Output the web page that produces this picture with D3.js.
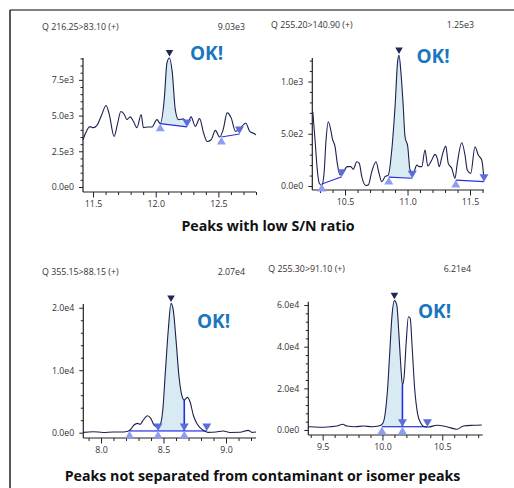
<!DOCTYPE html>
<html>
<head>
<meta charset="utf-8">
<script src="https://cdn.jsdelivr.net/npm/d3@7"></script>
<style>
  body { margin: 0; background: #fff; }
  svg text { font-family: "Open Sans", sans-serif; }
</style>
</head>
<body>
<svg id="chart" width="514" height="488"></svg>
<script>
// chromatogram traces: retention time (min) and intensity
var rtA = [11.42, 11.476, 11.502, 11.53, 11.57, 11.604, 11.63, 11.668, 11.694, 11.722, 11.75, 11.77, 11.796, 11.822, 11.85, 11.884, 11.902, 11.934, 11.97, 12.01, 12.036, 12.068, 12.09, 12.11, 12.132, 12.156, 12.182, 12.222, 12.25, 12.282, 12.316, 12.35, 12.382, 12.41, 12.442, 12.476, 12.51, 12.538, 12.57, 12.602, 12.636, 12.676, 12.718, 12.75, 12.788, 12.8];
var intA = [3310, 4225, 4155, 4295, 5070, 5704, 5070, 3540, 4366, 5281, 5070, 4718, 4908, 4598, 4155, 5070, 4155, 4204, 4204, 4718, 4436, 6127, 8711, 9030, 8028, 5422, 4718, 4767, 4366, 4908, 4246, 4788, 3782, 3190, 3310, 3965, 3500, 4013, 5190, 4838, 3894, 4133, 4485, 3894, 3732, 3662];

var rtB = [10.242, 10.26, 10.278, 10.294, 10.314, 10.332, 10.348, 10.366, 10.386, 10.398, 10.42, 10.438, 10.46, 10.486, 10.518, 10.546, 10.566, 10.594, 10.614, 10.634, 10.666, 10.686, 10.714, 10.748, 10.772, 10.794, 10.82, 10.846, 10.874, 10.9, 10.922, 10.932, 10.948, 10.966, 10.98, 11.002, 11.02, 11.046, 11.074, 11.094, 11.114, 11.14, 11.162, 11.194, 11.22, 11.238, 11.254, 11.278, 11.306, 11.326, 11.354, 11.38, 11.398, 11.434, 11.46, 11.478, 11.506, 11.54, 11.566, 11.594, 11.612];
var intB = [710, 440, 153, 26, 5, 121, 440, 615, 535, 456, 376, 217, 105, 137, 185, 185, 160, 232, 217, 89, 5, 10, 137, 232, 121, 41, 89, 105, 344, 758, 1205, 1250, 1077, 758, 471, 376, 153, 121, 200, 185, 185, 344, 191, 249, 303, 265, 185, 296, 382, 217, 169, 74, 217, 414, 296, 153, 121, 376, 296, 249, 60];

var rtC = [7.858, 7.936, 8.016, 8.096, 8.152, 8.208, 8.232, 8.264, 8.29, 8.312, 8.338, 8.37, 8.398, 8.424, 8.45, 8.472, 8.494, 8.514, 8.538, 8.56, 8.578, 8.6, 8.624, 8.646, 8.666, 8.69, 8.712, 8.738, 8.766, 8.792, 8.824, 8.858, 8.92, 8.978, 9.032, 9.112, 9.178, 9.208, 9.24];
var intC = [50, 160, 40, 120, 110, 200, 430, 1230, 1500, 1340, 2030, 2720, 2300, 1230, 960, 1230, 3630, 9500, 16430, 20700, 19630, 14830, 8960, 6030, 5230, 5660, 4960, 2830, 1500, 800, 320, 60, 110, 270, 40, 60, 380, 60, 110];

var rtD = [9.38, 9.395, 9.479, 9.563, 9.619, 9.669, 9.702, 9.772, 9.841, 9.911, 9.967, 10.003, 10.023, 10.042, 10.059, 10.079, 10.1, 10.12, 10.137, 10.154, 10.167, 10.181, 10.198, 10.217, 10.232, 10.248, 10.268, 10.293, 10.321, 10.349, 10.385, 10.455, 10.538, 10.622, 10.677, 10.761, 10.831];
var intD = [1500, 1580, 1300, 1580, 1920, 2740, 1920, 1580, 1920, 1580, 1920, 3220, 8020, 19200, 35180, 54380, 62100, 60000, 46400, 30400, 21600, 25600, 41600, 54400, 53600, 40000, 20800, 8020, 3220, 1580, 1440, 2260, 1580, 340, 1920, 2260, 2400];

// integration baselines: [start rt, start intensity, end rt, end intensity]
var segsA = [[12.036, 4436, 12.25, 4204], [12.524, 3500, 12.668, 3711]];
var segsB = [[10.314, 19, 10.474, 89], [10.85, 85, 11.038, 74], [11.386, 57, 11.612, 41]];
var segsC = [[8.228, 280, 8.456, 280], [8.456, 280, 8.666, 280], [8.666, 280, 8.846, 280]];
var segsD = [[9.995, 1580, 10.167, 1580], [10.167, 1580, 10.376, 1580]];
var filledSeg = [0, 1, 1, 0];       // which baseline segment is the integrated peak
var dropLines = [[], [], [8.666], [10.167]];

var transitions = ["Q 216.25>83.10 (+)", "Q 255.20>140.90 (+)", "Q 355.15>88.15 (+)", "Q 255.30>91.10 (+)"];
var maxLabels = ["9.03e3", "1.25e3", "2.07e4", "6.21e4"];
var yMaxes = [9030, 1225, 20600, 61600];
var yMajorSteps = [2500, 500, 10000, 20000];
var yMinorSteps = [500, 100, 2000, 4000];
var verdict = "OK!";
var sectionTitles = ["Peaks with low S/N ratio", "Peaks not separated from contaminant or isomer peaks"];

var traceCol = "#1d2050", fillCol = "#d8eaf2", baseCol = "#2430e0",
    upCol = "#8d9ef0", downCol = "#5b6cdc", apexCol = "#1c2857", okCol = "#1b76c0";
var smallFont = 8.8;

var svg = d3.select("#chart");

// frame
svg.append("line").attr("x1", 10).attr("x2", 514).attr("y1", 10).attr("y2", 10)
   .attr("stroke", "#808080").attr("stroke-width", 2);
svg.append("line").attr("x1", 10).attr("x2", 10).attr("y1", 10).attr("y2", 488)
   .attr("stroke", "#222").attr("stroke-width", 1.5);

var sci = function(v){ return d3.format(".1e")(v).replace("e+", "e"); };

var panels = [
  {rt: rtA, val: intA, segs: segsA, x0: 83, x1: 256, xDom: [11.42, 12.8], yZero: 187, yTop: 58, axisY: 192,
   headX: 42, headY: 29.5, maxR: 245, okX: 190, okY: 60},
  {rt: rtB, val: intB, segs: segsB, x0: 312.3, x1: 484, xDom: [10.238, 11.612], yZero: 186, yTop: 58, axisY: 190,
   headX: 271, headY: 28, maxR: 474, okX: 416.5, okY: 63},
  {rt: rtC, val: intC, segs: segsC, x0: 83.3, x1: 256, xDom: [7.858, 9.24], yZero: 432.7, yTop: 304, axisY: 438,
   headX: 42, headY: 275, maxR: 245, okX: 197, okY: 328},
  {rt: rtD, val: intD, segs: segsD, x0: 308.3, x1: 482.7, xDom: [9.38, 10.838], yZero: 430, yTop: 301.7, axisY: 435,
   headX: 268.3, headY: 271.5, maxR: 471, okX: 418, okY: 318}
];

function triUp(w, h){ return "M0,0L" + w + "," + h + "L" + (-w) + "," + h + "Z"; }
function triDown(w, h){ return "M0,0L" + w + "," + (-h) + "L" + (-w) + "," + (-h) + "Z"; }

panels.forEach(function(p, i){
  var g = svg.append("g").attr("class", "panel-" + i);
  var x = d3.scaleLinear().domain(p.xDom).range([p.x0, p.x1]);
  var y = d3.scaleLinear().domain([0, yMaxes[i]]).range([p.yZero, p.yTop]);
  var pts = p.rt.map(function(t, k){ return {t: t, v: p.val[k]}; });
  var interp = function(t){
    for (var k = 1; k < pts.length; k++) {
      if (pts[k].t >= t) {
        var a = pts[k-1], b = pts[k];
        return a.v + (b.v - a.v) * (t - a.t) / (b.t - a.t);
      }
    }
    return pts[pts.length-1].v;
  };

  // header
  g.append("text").attr("x", p.headX).attr("y", p.headY).attr("font-size", smallFont).attr("fill", "#333")
   .text(transitions[i]);
  g.append("text").attr("x", p.maxR).attr("y", p.headY).attr("font-size", smallFont).attr("fill", "#333")
   .attr("text-anchor", "end").text(maxLabels[i]);

  // y axis
  var yMaj = d3.range(0, yMaxes[i] + 1, yMajorSteps[i]);
  var yMin = d3.range(0, yMaxes[i] + 1, yMinorSteps[i]).filter(function(v){ return yMaj.indexOf(v) < 0; });
  var ya = g.append("g").attr("transform", "translate(" + p.x0 + ",0)");
  ya.call(d3.axisLeft(y).tickValues(yMin).tickSize(2.5).tickFormat(""));
  ya.select(".domain").remove();
  var yb = g.append("g").attr("transform", "translate(" + p.x0 + ",0)");
  yb.call(d3.axisLeft(y).tickValues(yMaj).tickSize(4).tickPadding(5).tickFormat(sci));
  yb.select(".domain").remove();
  yb.selectAll("text").attr("font-size", smallFont).attr("fill", "#333").attr("font-family", "Open Sans, sans-serif");
  g.append("line").attr("x1", p.x0).attr("x2", p.x0).attr("y1", p.yTop).attr("y2", p.axisY)
   .attr("stroke", "#222").attr("stroke-width", 1.2);

  // x axis
  var xa = d3.range(Math.ceil(p.xDom[0] * 10), Math.floor(p.xDom[1] * 10) + 1).map(function(k){ return k / 10; });
  var xMaj = xa.filter(function(v){ return Math.abs(v * 2 - Math.round(v * 2)) < 1e-6; });
  var xMin = xa.filter(function(v){ return xMaj.indexOf(v) < 0; });
  var xg1 = g.append("g").attr("transform", "translate(0," + p.axisY + ")");
  xg1.call(d3.axisBottom(x).tickValues(xMin).tickSize(3).tickFormat(""));
  xg1.select(".domain").remove();
  var xg2 = g.append("g").attr("transform", "translate(0," + p.axisY + ")");
  xg2.call(d3.axisBottom(x).tickValues(xMaj).tickSize(5.5).tickPadding(3.5).tickFormat(d3.format(".1f")));
  xg2.select(".domain").remove();
  xg2.selectAll("text").attr("font-size", smallFont).attr("fill", "#333").attr("font-family", "Open Sans, sans-serif");
  g.selectAll(".tick line").attr("stroke", "#222");
  g.append("line").attr("x1", p.x0).attr("x2", p.x1).attr("y1", p.axisY).attr("y2", p.axisY)
   .attr("stroke", "#222").attr("stroke-width", 1.2);

  // filled integrated peak
  var s = p.segs[filledSeg[i]];
  var baseAt = function(t){ return s[1] + (s[3] - s[1]) * (t - s[0]) / (s[2] - s[0]); };
  var clipId = "clip" + i;
  svg.append("clipPath").attr("id", clipId).append("rect")
     .attr("x", x(s[0])).attr("width", x(s[2]) - x(s[0])).attr("y", 0).attr("height", 488);
  g.append("path").datum(pts).attr("clip-path", "url(#" + clipId + ")")
   .attr("fill", fillCol)
   .attr("d", d3.area().curve(d3.curveMonotoneX)
      .x(function(d){ return x(d.t); })
      .y0(function(d){ return y(baseAt(d.t)); })
      .y1(function(d){ return y(d.v); }));

  // baselines
  g.selectAll(".bl").data(p.segs).enter().append("line")
   .attr("x1", function(d){ return x(d[0]); }).attr("y1", function(d){ return y(d[1]); })
   .attr("x2", function(d){ return x(d[2]); }).attr("y2", function(d){ return y(d[3]); })
   .attr("stroke", baseCol).attr("stroke-width", 1.2);

  // drop lines between co-eluting peaks
  dropLines[i].forEach(function(t){
    var b = p.segs[0][1];
    g.append("line").attr("x1", x(t)).attr("x2", x(t)).attr("y1", y(b)).attr("y2", y(interp(t)))
     .attr("stroke", baseCol).attr("stroke-width", 1.6);
  });

  // trace
  g.append("path").datum(pts).attr("fill", "none").attr("stroke", traceCol).attr("stroke-width", 1.1)
   .attr("d", d3.line().curve(d3.curveMonotoneX).x(function(d){ return x(d.t); }).y(function(d){ return y(d.v); }));

  // markers
  g.selectAll(".up").data(p.segs).enter().append("path")
   .attr("transform", function(d){ return "translate(" + x(d[0]) + "," + y(d[1]) + ")"; })
   .attr("d", triUp(4.5, 7.5)).attr("fill", upCol);
  g.selectAll(".dn").data(p.segs).enter().append("path")
   .attr("transform", function(d){ return "translate(" + x(d[2]) + "," + y(d[3]) + ")"; })
   .attr("d", triDown(4.5, 7.5)).attr("fill", downCol);
  var apex = pts[d3.maxIndex(pts, function(d){ return d.v; })];
  g.append("path").attr("transform", "translate(" + x(apex.t) + "," + (y(apex.v) - 1.5) + ")")
   .attr("d", triDown(3.8, 6.5)).attr("fill", apexCol);

  g.append("text").attr("x", p.okX).attr("y", p.okY).attr("font-size", 19).attr("font-weight", 700)
   .attr("fill", okCol).text(verdict);
});

svg.append("text").attr("x", 268).attr("y", 230.5).attr("text-anchor", "middle")
   .attr("font-size", 14.2).attr("font-weight", 700).attr("fill", "#111").text(sectionTitles[0]);
svg.append("text").attr("x", 262.5).attr("y", 481).attr("text-anchor", "middle")
   .attr("font-size", 14.2).attr("font-weight", 700).attr("fill", "#111").text(sectionTitles[1]);
</script>
</body>
</html>
